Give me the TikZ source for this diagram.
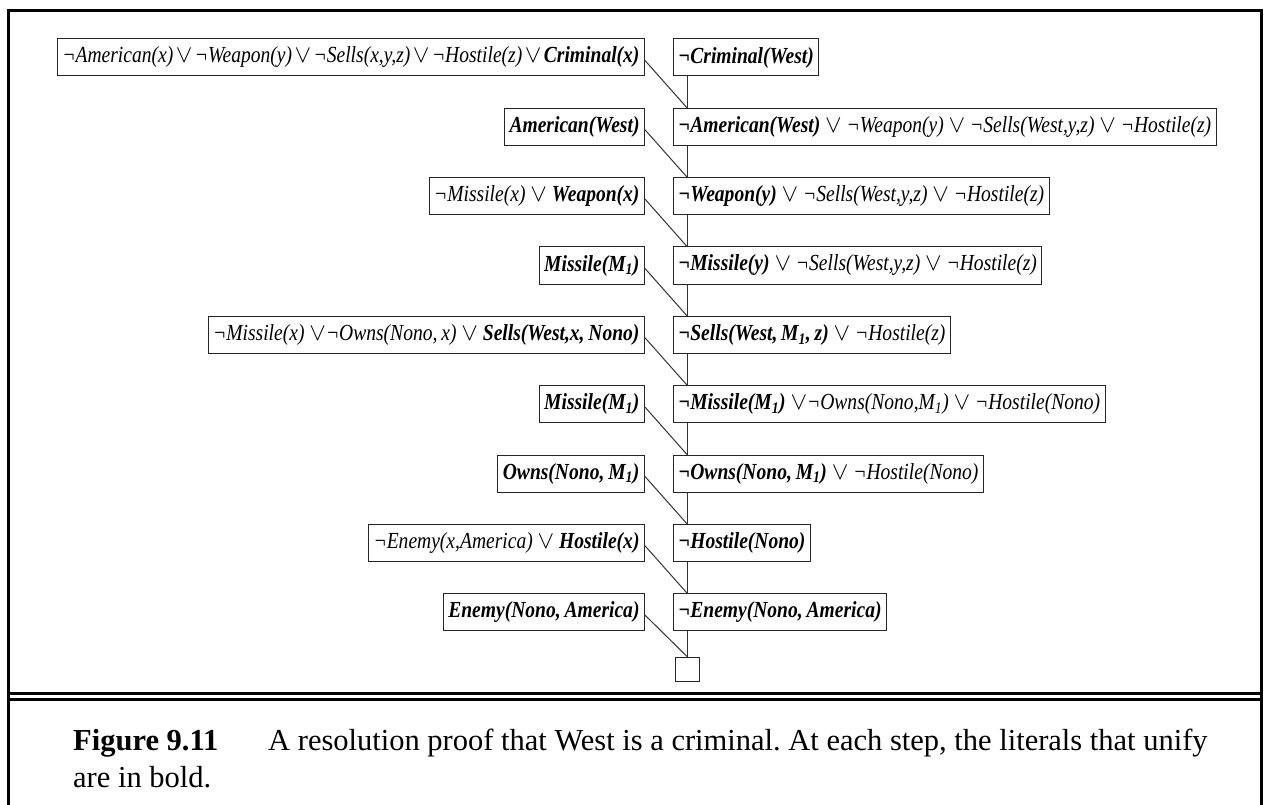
\documentclass[tikz,border=0pt]{standalone}
\usepackage{fontspec}
\setmainfont{Liberation Serif}
\newfontfamily\dfont[FakeStretch=0.85]{Liberation Serif}
\newcommand\B[1]{{\bfseries #1}}
\newcommand\myor{\ensuremath{\vee}}
\newcommand\tor{\hspace{2.5pt}\ensuremath{\vee}\hspace{2.5pt}}
\newcommand\Mone{M\textsubscript{1}}
\frenchspacing
\begin{document}
\begin{tikzpicture}[x=1pt,y=-1pt,
  cl/.style={draw=black!85, line width=1pt, font=\dfont\fontsize{23}{26}\selectfont\itshape,
    inner xsep=5pt, inner ysep=0pt, minimum height=37pt},
  lc/.style={cl, anchor=east},
  rc/.style={cl, anchor=west},
  link/.style={draw=black!80, line width=1pt},
  frame/.style={line width=3pt},
  captxt/.style={anchor=base west, inner sep=0pt, font=\fontsize{30.5}{37}\selectfont}]
\useasboundingbox (0,0) rectangle (1264,805);
% frame
\draw[frame] (8,805) -- (8,11) -- (1261,11) -- (1261,805);
\draw[line width=2.5pt] (8,693.5) -- (1261,693.5);
\draw[line width=2.5pt] (8,699.5) -- (1261,699.5);
\coordinate (sp) at (687,0);
% right column
\node[rc] (r1) at (673,57.5) {\B{\textlnot Criminal(West)}};
\node[rc] (r2) at (673,126.8) {\B{\textlnot American(West)} \myor{} \textlnot Weapon(y) \myor{} \textlnot Sells(West,y,z) \myor{} \textlnot Hostile(z)};
\node[rc] (r3) at (673,196.1) {\B{\textlnot Weapon(y)} \myor{} \textlnot Sells(West,y,z) \myor{} \textlnot Hostile(z)};
\node[rc] (r4) at (673,265.5) {\B{\textlnot Missile(y)} \myor{} \textlnot Sells(West,y,z) \myor{} \textlnot Hostile(z)};
\node[rc] (r5) at (673,334.8) {\B{\textlnot Sells(West,\,\Mone,\,z)} \myor{} \textlnot Hostile(z)};
\node[rc] (r6) at (673,404.1) {\B{\textlnot Missile(\Mone)} \myor\textlnot Owns(Nono,\Mone) \myor{} \textlnot Hostile(Nono)};
\node[rc] (r7) at (673,473.5) {\B{\textlnot Owns(Nono,\,\Mone)} \myor{} \textlnot Hostile(Nono)};
\node[rc] (r8) at (673,542.8) {\B{\textlnot Hostile(Nono)}};
\node[rc] (r9) at (673,612.1) {\B{\textlnot Enemy(Nono,\,America)}};
% left column
\node[lc] (l1) at (645,57.5) {\textlnot American(x)\tor\textlnot Weapon(y)\tor\textlnot Sells(x,y,z)\tor\textlnot Hostile(z)\tor\B{Criminal(x)}};
\node[lc] (l2) at (645,126.8) {\B{American(West)}};
\node[lc] (l3) at (645,196.1) {\textlnot Missile(x) \myor{} \B{Weapon(x)}};
\node[lc] (l4) at (645,265.5) {\B{Missile(\Mone)}};
\node[lc] (l5) at (645,334.8) {\textlnot Missile(x) \myor\textlnot Owns(Nono,\,x) \myor{} \B{Sells(West,x,\,Nono)}};
\node[lc] (l6) at (645,404.1) {\B{Missile(\Mone)}};
\node[lc] (l7) at (645,473.5) {\B{Owns(Nono,\,\Mone)}};
\node[lc] (l8) at (645,542.8) {\textlnot Enemy(x,America) \myor{} \B{Hostile(x)}};
\node[lc] (l9) at (645,612.1) {\B{Enemy(Nono,\,America)}};
% empty clause
\node[draw=black!85, line width=1pt, minimum size=24pt, inner sep=0pt] (box) at (687,669) {};
% spine
\foreach \a/\b in {r1/r2,r2/r3,r3/r4,r4/r5,r5/r6,r6/r7,r7/r8,r8/r9}
  \draw[link] (\a.south -| sp) -- (\b.north -| sp);
\draw[link] (r9.south -| sp) -- (box.north);
% side links
\foreach \a/\b in {l1/r2,l2/r3,l3/r4,l4/r5,l5/r6,l6/r7,l7/r8,l8/r9}
  \draw[link] ([yshift=-3pt]\a.east) -- (\b.north -| sp);
\draw[link] ([yshift=-3pt]l9.east) -- (box.north);
% caption
\node[captxt, font=\fontsize{30.5}{37}\selectfont\bfseries] (fig) at (73,750) {Figure 9.11};
\node[captxt] (cap1) at (268,750) {A resolution proof that West is a criminal. At each step, the literals that unify};
\node[captxt] (cap2) at (73,787) {are in bold.};
\end{tikzpicture}
\end{document}
